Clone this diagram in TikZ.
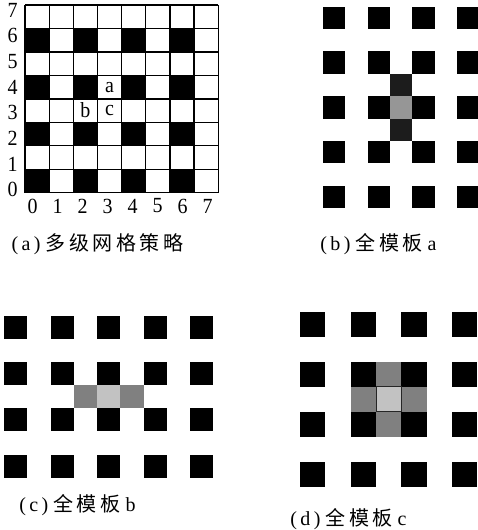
\documentclass[tikz,border=0pt]{standalone}
\usepackage{fontspec}
\setmainfont{Liberation Serif}
\newfontfamily\cjkfont[LetterSpace=18]{Noto Sans CJK SC}
\usetikzlibrary{positioning}

\begin{document}
\begin{tikzpicture}[
    x=1pt, y=1pt,
    blk/.style={fill=black},
    darkcell/.style={fill=black!89},
    midcell/.style={fill=black!50},
    lightcell/.style={fill=black!24},
    gridline/.style={line width=1.3pt},
    digit/.style={font=\fontsize{20}{20}\selectfont, inner sep=0pt, yscale=1.08, transform shape},
    subcap/.style={font=\fontsize{20}{20}\selectfont, inner sep=0pt},
]
    \fill[white] (0,0) rectangle (478,530);
    \useasboundingbox (0,0) rectangle (478,530);

    % (a) multi-level grid
    \begin{scope}[shift={(25,337.3)}, x=24.16pt, y=23.46pt]
        \foreach \i in {0,2,4,6}
            \foreach \j in {0,2,4,6}
                \fill[blk] (\i,\j) rectangle ++(1,1);
        \foreach \k in {0,...,8} {
            \draw[gridline] (\k,0) -- (\k,8);
            \draw[gridline] (0,\k) -- (8,\k);
        }
        \node[digit] (pa) at (3.5,4.5) {a};
        \node[digit] (pb) at (2.5,3.5) {b};
        \node[digit] (pc) at (3.5,3.5) {c};
    \end{scope}
    \foreach \j in {0,...,7}
        \node[digit] (ylab\j) at (12.5,340.5+25.6*\j) {\j};
    \foreach \i in {0,...,7}
        \node[digit] (xlab\i) at (32.5+25*\i,324) {\i};

    % (b) full template a
    \begin{scope}[shift={(322.7,321.7)}, x=22.43pt, y=22.4pt]
        \foreach \i in {0,2,4,6}
            \foreach \j in {0,2,4,6,8}
                \fill[blk] (\i,\j) rectangle ++(1,1);
        \fill[darkcell] (3,5) rectangle ++(1,1);
        \fill[darkcell] (3,3) rectangle ++(1,1);
        \fill[fill=black!41] (3,4) rectangle ++(1,1);
    \end{scope}

    % (c) full template b
    \begin{scope}[shift={(4,52.3)}, x=23.25pt, y=23.1pt]
        \foreach \i in {0,2,4,6,8}
            \foreach \j in {0,2,4,6}
                \fill[blk] (\i,\j) rectangle ++(1,1);
        \fill[midcell] (3,3) rectangle ++(1,1);
        \fill[midcell] (5,3) rectangle ++(1,1);
        \fill[lightcell] (4,3) rectangle ++(1,1);
    \end{scope}

    % (d) full template c
    \begin{scope}[shift={(300,43.3)}, x=25.3pt, y=25pt]
        \foreach \i in {0,2,4,6}
            \foreach \j in {0,2,4,6}
                \fill[blk] (\i,\j) rectangle ++(1,1);
        \fill[midcell] (3,4) rectangle ++(1,1);
        \fill[midcell] (3,2) rectangle ++(1,1);
        \fill[midcell] (2,3) rectangle ++(1,1);
        \fill[midcell] (4,3) rectangle ++(1,1);
        \filldraw[lightcell, draw=black!85, line width=0.8pt] (3,3) rectangle ++(1,1);
    \end{scope}

    % captions
    \node[subcap] (capa) at (97.5,285.5) {(\,a\,)\hspace{5pt}{\cjkfont 多级网格策略}};
    \node[subcap] (capb) at (378.5,286) {(\,b\,)\hspace{5pt}{\cjkfont 全模板} a};
    \node[subcap] (capc) at (77.5,25) {(\,c\,)\hspace{5pt}{\cjkfont 全模板} b};
    \node[subcap] (capd) at (348.5,10.5) {(\,d\,)\hspace{5pt}{\cjkfont 全模板} c};

\end{tikzpicture}
\end{document}
